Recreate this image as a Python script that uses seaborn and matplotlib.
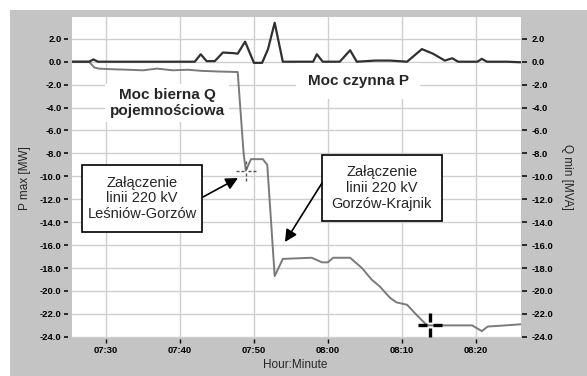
import matplotlib
matplotlib.use("Agg")
import matplotlib.pyplot as plt
import seaborn as sns
import pandas as pd
from matplotlib.path import Path
from matplotlib.patches import Rectangle

sns.set_style("white")
plt.rcParams['font.family'] = ['Liberation Sans', 'DejaVu Sans']

# time in minutes after 07:00
p_time = [25.4, 27.7, 28.3, 28.9, 42.0, 42.8, 43.6, 44.7, 45.8, 47.2, 47.8, 48.8, 50.0, 51.1,
          51.9, 52.8, 53.9, 58.0, 58.5, 59.3, 61.6, 63.0, 63.9, 66.4, 68.4, 70.7, 72.7, 74.2,
          75.8, 76.8, 77.6, 80.2, 80.8, 81.5, 84.2, 86.1]
p_values = [0.0, 0.0, 0.2, 0.0, 0.0, 0.65, 0.05, 0.05, 0.8, 0.75, 0.7, 1.75, -0.1, -0.1,
            1.1, 3.4, 0.0, 0.0, 0.65, 0.0, 0.0, 1.0, 0.0, 0.1, 0.1, 0.0, 1.1, 0.7,
            0.1, 0.3, 0.0, 0.0, 0.25, 0.0, 0.0, -0.05]

q_time = [25.4, 27.7, 28.4, 29.0, 30.5, 33.0, 35.0, 36.9, 39.0, 41.0, 43.0, 45.0, 47.8,
          48.6, 48.9, 49.6, 51.2, 51.8, 52.8, 53.9, 57.8, 59.2, 60.0, 60.7, 63.0, 64.6,
          65.9, 67.0, 68.4, 69.3, 70.7, 72.0, 73.4, 75.1, 79.5, 80.8, 81.6, 84.0, 86.1]
q_values = [0.0, 0.0, -0.5, -0.6, -0.65, -0.7, -0.75, -0.6, -0.75, -0.7, -0.8, -0.85, -0.9,
            -8.0, -9.5, -8.5, -8.5, -9.0, -18.7, -17.2, -17.1, -17.5, -17.5, -17.1, -17.1, -18.0,
            -19.0, -19.6, -20.6, -21.0, -21.2, -22.1, -23.0, -23.0, -23.0, -23.5, -23.1, -23.0, -22.9]

cursor_time = [48.9, 73.8]
cursor_value = [-9.5, -23.0]

y_ticks = [-24, -22, -20, -18, -16, -14, -12, -10, -8, -6, -4, -2, 0, 2]
x_ticks = [30, 40, 50, 60, 70, 80]
x_labels = ["07:30", "07:40", "07:50", "08:00", "08:10", "08:20"]

W, H = 587, 376
fig = plt.figure(figsize=(W / 100, H / 100), dpi=100)
fig.patch.set_facecolor('white')
fig.add_artist(Rectangle((10 / W, 0), 1 - 10 / W, 1 - 10 / H, transform=fig.transFigure,
                         facecolor='#c4c4c4', edgecolor='none', zorder=-10))
ax = fig.add_axes([72 / W, 1 - 338 / H, 449 / W, 321 / H])
ax.set_facecolor('white')

dp = pd.DataFrame({"t": p_time, "v": p_values})
dq = pd.DataFrame({"t": q_time, "v": q_values})
sns.lineplot(data=dq, x="t", y="v", ax=ax, color='#7a7a7a', lw=1.4, estimator=None, zorder=3)
sns.lineplot(data=dp, x="t", y="v", ax=ax, color='#303030', lw=1.6, estimator=None, zorder=4)

# cursor markers
MV, LT = Path.MOVETO, Path.LINETO
dash_cross = Path([(-1, 0), (-0.7, 0), (-0.5, 0), (-0.2, 0), (0.2, 0), (0.5, 0), (0.7, 0), (1, 0),
                   (0, -1), (0, -0.7), (0, -0.5), (0, -0.2), (0, 0.2), (0, 0.5), (0, 0.7), (0, 1)],
                  [MV, LT] * 8)
gap_cross = Path([(-1, 0), (-0.25, 0), (0.25, 0), (1, 0), (0, -1), (0, -0.25), (0, 0.25), (0, 1)],
                 [MV, LT] * 4)
ax.plot([cursor_time[0]], [cursor_value[0]], marker=dash_cross, ls='none', ms=14,
        mec='#555555', mew=1.0, zorder=6)
ax.plot([cursor_time[1]], [cursor_value[1]], marker=gap_cross, ls='none', ms=17,
        mec='black', mew=2.4, zorder=6)

ax.set_xlim(25.4, 86.1)
ax.set_ylim(-24.1, 3.9)
ax.set_xticks(x_ticks, labels=x_labels)
ax.set_yticks(y_ticks, labels=[f"{v:.1f}" for v in y_ticks])
ax.grid(True, color='#cfcfcf', lw=1.0)
ax.set_axisbelow(True)
ax.set_xlabel("")
ax.set_ylabel("")
for s in ax.spines.values():
    s.set_visible(False)
ax.spines['left'].set_position(('outward', 3))
ax.spines['bottom'].set_position(('outward', 1))
ax.tick_params(axis='y', direction='out', length=3, width=1.1, color='black', pad=1.5, left=True,
               labelsize=6.8, labelcolor='black')
ax.tick_params(axis='x', direction='out', length=3, width=1.0, color='black', pad=1.5, bottom=True,
               labelsize=6.8, labelcolor='black')

ax2 = ax.twinx()
ax2.set_ylim(ax.get_ylim())
ax2.set_yticks(y_ticks, labels=[f"{v:.1f}" for v in y_ticks])
for s in ax2.spines.values():
    s.set_visible(False)
ax2.spines['right'].set_position(('outward', 1))
ax2.tick_params(axis='y', direction='out', length=3.5, width=1.1, color='black', pad=3, right=True,
                labelsize=6.8, labelcolor='black')
ax2.grid(False)

for lbl in ax.get_xticklabels() + ax.get_yticklabels() + ax2.get_yticklabels():
    lbl.set_fontweight('bold')

# annotations
ax.text(0.2116, 0.732, "Moc bierna Q\npojemnościowa", transform=ax.transAxes, ha='center',
        va='center', fontsize=11, fontweight='bold', linespacing=1.1, zorder=5,
        bbox=dict(fc='white', ec='none', pad=3))
ax.text(0.637, 0.8006, "Moc czynna P", transform=ax.transAxes, ha='center', va='center',
        fontsize=11, fontweight='bold', zorder=5, bbox=dict(fc='white', ec='none', pad=8))

ax.add_patch(Rectangle((0.0223, 0.330), 0.2672, 0.209, transform=ax.transAxes, fc='white',
                       ec='black', lw=1.2, zorder=7))
ax.text(0.156, 0.435, "Załączenie\nlinii 220 kV\nLeśniów-Gorzów", transform=ax.transAxes,
        ha='center', va='center', fontsize=10.5, linespacing=1.15, zorder=8)
ax.add_patch(Rectangle((0.557, 0.364), 0.267, 0.206, transform=ax.transAxes, fc='white',
                       ec='black', lw=1.2, zorder=7))
ax.text(0.690, 0.467, "Załączenie\nlinii 220 kV\nGorzów-Krajnik", transform=ax.transAxes,
        ha='center', va='center', fontsize=10.5, linespacing=1.15, zorder=8)

arrow = dict(arrowstyle='-|>', color='black', lw=1.2, mutation_scale=18, shrinkA=0, shrinkB=0)
ax.annotate("", xy=(0.3697, 0.4984), xytext=(0.2918, 0.4393), xycoords='axes fraction',
            textcoords='axes fraction', arrowprops=arrow, zorder=8)
ax.annotate("", xy=(0.4744, 0.2991), xytext=(0.5568, 0.4829), xycoords='axes fraction',
            textcoords='axes fraction', arrowprops=arrow, zorder=8)

fig.text(25 / W, 1 - 178 / H, "P max [MW]", rotation=90, ha='center', va='center', fontsize=8.5)
fig.text(567 / W, 1 - 177 / H, "Q min [MVA]", rotation=-90, ha='center', va='center', fontsize=8.5)
fig.text(295 / W, 1 - 365 / H, "Hour:Minute", ha='center', va='center', fontsize=8.5)

fig.savefig("out.png", dpi=100, facecolor=fig.get_facecolor())
